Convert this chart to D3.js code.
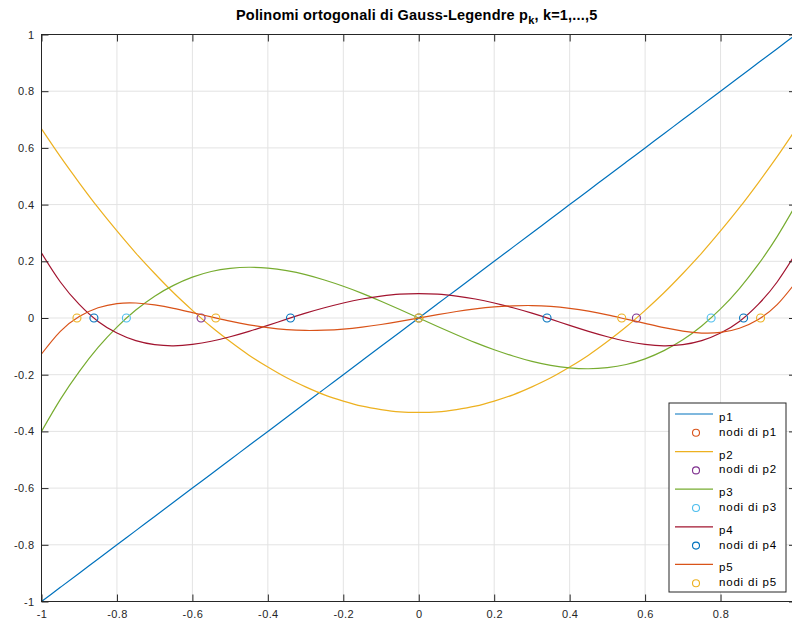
<!DOCTYPE html>
<html>
<head>
<meta charset="utf-8">
<script src="https://cdn.jsdelivr.net/npm/d3@7"></script>
<style>
  body { margin: 0; background: #fff; }
  svg { display: block; font-family: "Liberation Sans", Arial, sans-serif; }
</style>
</head>
<body>
<div id="chart"></div>
<script>
// sample abscissae
const xs = [-1, -0.95, -0.9, -0.85, -0.8, -0.75, -0.7, -0.65, -0.6, -0.55, -0.5, -0.45, -0.4, -0.35, -0.3, -0.25, -0.2, -0.15, -0.1, -0.05,
            0, 0.05, 0.1, 0.15, 0.2, 0.25, 0.3, 0.35, 0.4, 0.45, 0.5, 0.55, 0.6, 0.65, 0.7, 0.75, 0.8, 0.85, 0.9, 0.95, 1];

// polynomial values
const p1 = [-1, -0.95, -0.9, -0.85, -0.8, -0.75, -0.7, -0.65, -0.6, -0.55, -0.5, -0.45, -0.4, -0.35, -0.3, -0.25, -0.2, -0.15, -0.1, -0.05,
            0, 0.05, 0.1, 0.15, 0.2, 0.25, 0.3, 0.35, 0.4, 0.45, 0.5, 0.55, 0.6, 0.65, 0.7, 0.75, 0.8, 0.85, 0.9, 0.95, 1];
const p2 = [0.667, 0.569, 0.477, 0.389, 0.307, 0.229, 0.157, 0.089, 0.027, -0.031, -0.083, -0.131, -0.173, -0.211, -0.243, -0.271, -0.293, -0.311, -0.323, -0.331,
            -0.333, -0.331, -0.323, -0.311, -0.293, -0.271, -0.243, -0.211, -0.173, -0.131, -0.083, -0.031, 0.027, 0.089, 0.157, 0.229, 0.307, 0.389, 0.477, 0.569, 0.667];
const p3 = [-0.400, -0.287, -0.189, -0.104, -0.032, 0.028, 0.077, 0.115, 0.144, 0.164, 0.175, 0.179, 0.176, 0.167, 0.153, 0.134, 0.112, 0.087, 0.059, 0.030,
            0, -0.030, -0.059, -0.087, -0.112, -0.134, -0.153, -0.167, -0.176, -0.179, -0.175, -0.164, -0.144, -0.115, -0.077, -0.028, 0.032, 0.104, 0.189, 0.287, 0.400];
const p4 = [0.229, 0.127, 0.048, -0.012, -0.053, -0.080, -0.094, -0.098, -0.093, -0.082, -0.066, -0.047, -0.026, -0.004, 0.017, 0.036, 0.053, 0.067, 0.077, 0.084,
            0.086, 0.084, 0.077, 0.067, 0.053, 0.036, 0.017, -0.004, -0.026, -0.047, -0.066, -0.082, -0.093, -0.098, -0.094, -0.080, -0.053, -0.012, 0.048, 0.127, 0.229];
const p5 = [-0.127, -0.047, 0.005, 0.036, 0.051, 0.053, 0.046, 0.034, 0.019, 0.004, -0.011, -0.024, -0.034, -0.041, -0.044, -0.043, -0.039, -0.032, -0.023, -0.012,
            0, 0.012, 0.023, 0.032, 0.039, 0.043, 0.044, 0.041, 0.034, 0.024, 0.011, -0.004, -0.019, -0.034, -0.046, -0.053, -0.051, -0.036, -0.005, 0.047, 0.127];

// zeros (nodes) of each polynomial
const nodes1 = [0];
const nodes2 = [-0.577, 0.577];
const nodes3 = [-0.775, 0, 0.775];
const nodes4 = [-0.861, -0.340, 0.340, 0.861];
const nodes5 = [-0.906, -0.538, 0, 0.538, 0.906];

const xTicks = [-1, -0.8, -0.6, -0.4, -0.2, 0, 0.2, 0.4, 0.6, 0.8, 1];
const yTicks = [-1, -0.8, -0.6, -0.4, -0.2, 0, 0.2, 0.4, 0.6, 0.8, 1];

const series = [
    {name: "p1", type: "line", y: p1, color: "#0072BD"},
    {name: "nodi di p1", type: "nodes", x: nodes1, color: "#D95319"},
    {name: "p2", type: "line", y: p2, color: "#EDB120"},
    {name: "nodi di p2", type: "nodes", x: nodes2, color: "#7E2F8E"},
    {name: "p3", type: "line", y: p3, color: "#77AC30"},
    {name: "nodi di p3", type: "nodes", x: nodes3, color: "#4DBEEE"},
    {name: "p4", type: "line", y: p4, color: "#A2142F"},
    {name: "nodi di p4", type: "nodes", x: nodes4, color: "#0072BD"},
    {name: "p5", type: "line", y: p5, color: "#D95319"},
    {name: "nodi di p5", type: "nodes", x: nodes5, color: "#EDB120"}
];

const W = 792, H = 623;
const mLeft = 41.5, mRight = 796, mTop = 34.5, mBottom = 601.5;

const svg = d3.select("#chart").append("svg")
    .attr("width", W)
    .attr("height", H);

const x = d3.scaleLinear().domain([-1, 1]).range([mLeft, mRight]);
const y = d3.scaleLinear().domain([-1, 1]).range([mBottom, mTop]);

// grid
svg.append("g").selectAll("line")
    .data(xTicks).enter().append("line")
    .attr("x1", d => x(d)).attr("x2", d => x(d))
    .attr("y1", mTop).attr("y2", mBottom)
    .attr("stroke", "#e3e3e3").attr("stroke-width", 1);
svg.append("g").selectAll("line")
    .data(yTicks).enter().append("line")
    .attr("x1", mLeft).attr("x2", mRight)
    .attr("y1", d => y(d)).attr("y2", d => y(d))
    .attr("stroke", "#e3e3e3").attr("stroke-width", 1);

svg.append("defs").append("clipPath").attr("id", "clip")
    .append("rect")
    .attr("x", mLeft).attr("y", mTop)
    .attr("width", mRight - mLeft).attr("height", mBottom - mTop);

const plot = svg.append("g").attr("clip-path", "url(#clip)");

const line = d3.line()
    .x((d, i) => x(xs[i]))
    .y(d => y(d))
    .curve(d3.curveNatural);

series.forEach(s => {
    if (s.type === "line") {
        plot.append("path")
            .datum(s.y)
            .attr("d", line)
            .attr("fill", "none")
            .attr("stroke", s.color)
            .attr("stroke-width", 1.2);
    } else {
        plot.append("g").selectAll("circle")
            .data(s.x).enter().append("circle")
            .attr("cx", d => x(d))
            .attr("cy", y(0))
            .attr("r", 4)
            .attr("fill", "none")
            .attr("stroke", s.color)
            .attr("stroke-width", 1.1);
    }
});

// axes (box with inward ticks)
const fmt = d => d === 0 ? "0" : String(d);
const axisColor = "#262626";

// the x=1 label falls past the window edge, as in the original
svg.append("g")
    .attr("transform", "translate(0," + mBottom + ")")
    .call(d3.axisBottom(x).tickValues(xTicks).tickFormat(d => d === 1 ? "" : fmt(d)).tickSizeInner(-7).tickSizeOuter(0).tickPadding(9))
    .call(g => g.select(".domain").remove());
svg.append("g")
    .attr("transform", "translate(" + mLeft + ",0)")
    .call(d3.axisLeft(y).tickValues(yTicks).tickFormat(fmt).tickSizeInner(-7).tickSizeOuter(0).tickPadding(7))
    .call(g => g.select(".domain").remove());
svg.append("g")
    .attr("transform", "translate(0," + mTop + ")")
    .call(d3.axisTop(x).tickValues(xTicks).tickFormat("").tickSizeInner(-7).tickSizeOuter(0))
    .call(g => g.select(".domain").remove());
svg.append("g")
    .attr("transform", "translate(" + mRight + ",0)")
    .call(d3.axisRight(y).tickValues(yTicks).tickFormat("").tickSizeInner(-7).tickSizeOuter(0))
    .call(g => g.select(".domain").remove());

svg.selectAll(".tick line").attr("stroke", axisColor).attr("stroke-width", 1);
svg.selectAll(".tick text").attr("fill", "#262626").attr("font-size", "11px")
    .attr("letter-spacing", "0.4px")
    .attr("font-family", "Liberation Sans, Arial, sans-serif");

svg.append("rect")
    .attr("x", mLeft).attr("y", mTop)
    .attr("width", mRight - mLeft).attr("height", mBottom - mTop)
    .attr("fill", "none").attr("stroke", axisColor).attr("stroke-width", 1);

// title
const title = svg.append("text")
    .attr("x", (mLeft + mRight) / 2 - 2)
    .attr("y", 20)
    .attr("text-anchor", "middle")
    .attr("font-size", "14.5px")
    .attr("letter-spacing", "0.2px")
    .attr("font-weight", "bold")
    .attr("fill", "#000");
title.append("tspan").text("Polinomi ortogonali di Gauss-Legendre p");
title.append("tspan").attr("font-size", "11px").attr("dy", 4).text("k");
title.append("tspan").attr("dy", -4).text(", k=1,...,5");

// legend
const lg = svg.append("g").attr("transform", "translate(669,403)");
const rowH = 18.8;
lg.append("rect")
    .attr("width", 117).attr("height", 189)
    .attr("fill", "#fff").attr("stroke", axisColor).attr("stroke-width", 1);
series.forEach((s, i) => {
    const cy = 11 + i * rowH;
    if (s.type === "line") {
        lg.append("line")
            .attr("x1", 6).attr("x2", 44)
            .attr("y1", cy).attr("y2", cy)
            .attr("stroke", s.color).attr("stroke-width", 1.2);
    } else {
        lg.append("circle")
            .attr("cx", 27).attr("cy", cy).attr("r", 3.5)
            .attr("fill", "none").attr("stroke", s.color).attr("stroke-width", 1.1);
    }
    lg.append("text")
        .attr("x", 50).attr("y", cy + 3 + (s.type === "line" ? 4 : 0))
        .attr("font-size", "11.5px").attr("letter-spacing", "0.8px").attr("fill", "#000")
        .text(s.name);
});
</script>
</body>
</html>
